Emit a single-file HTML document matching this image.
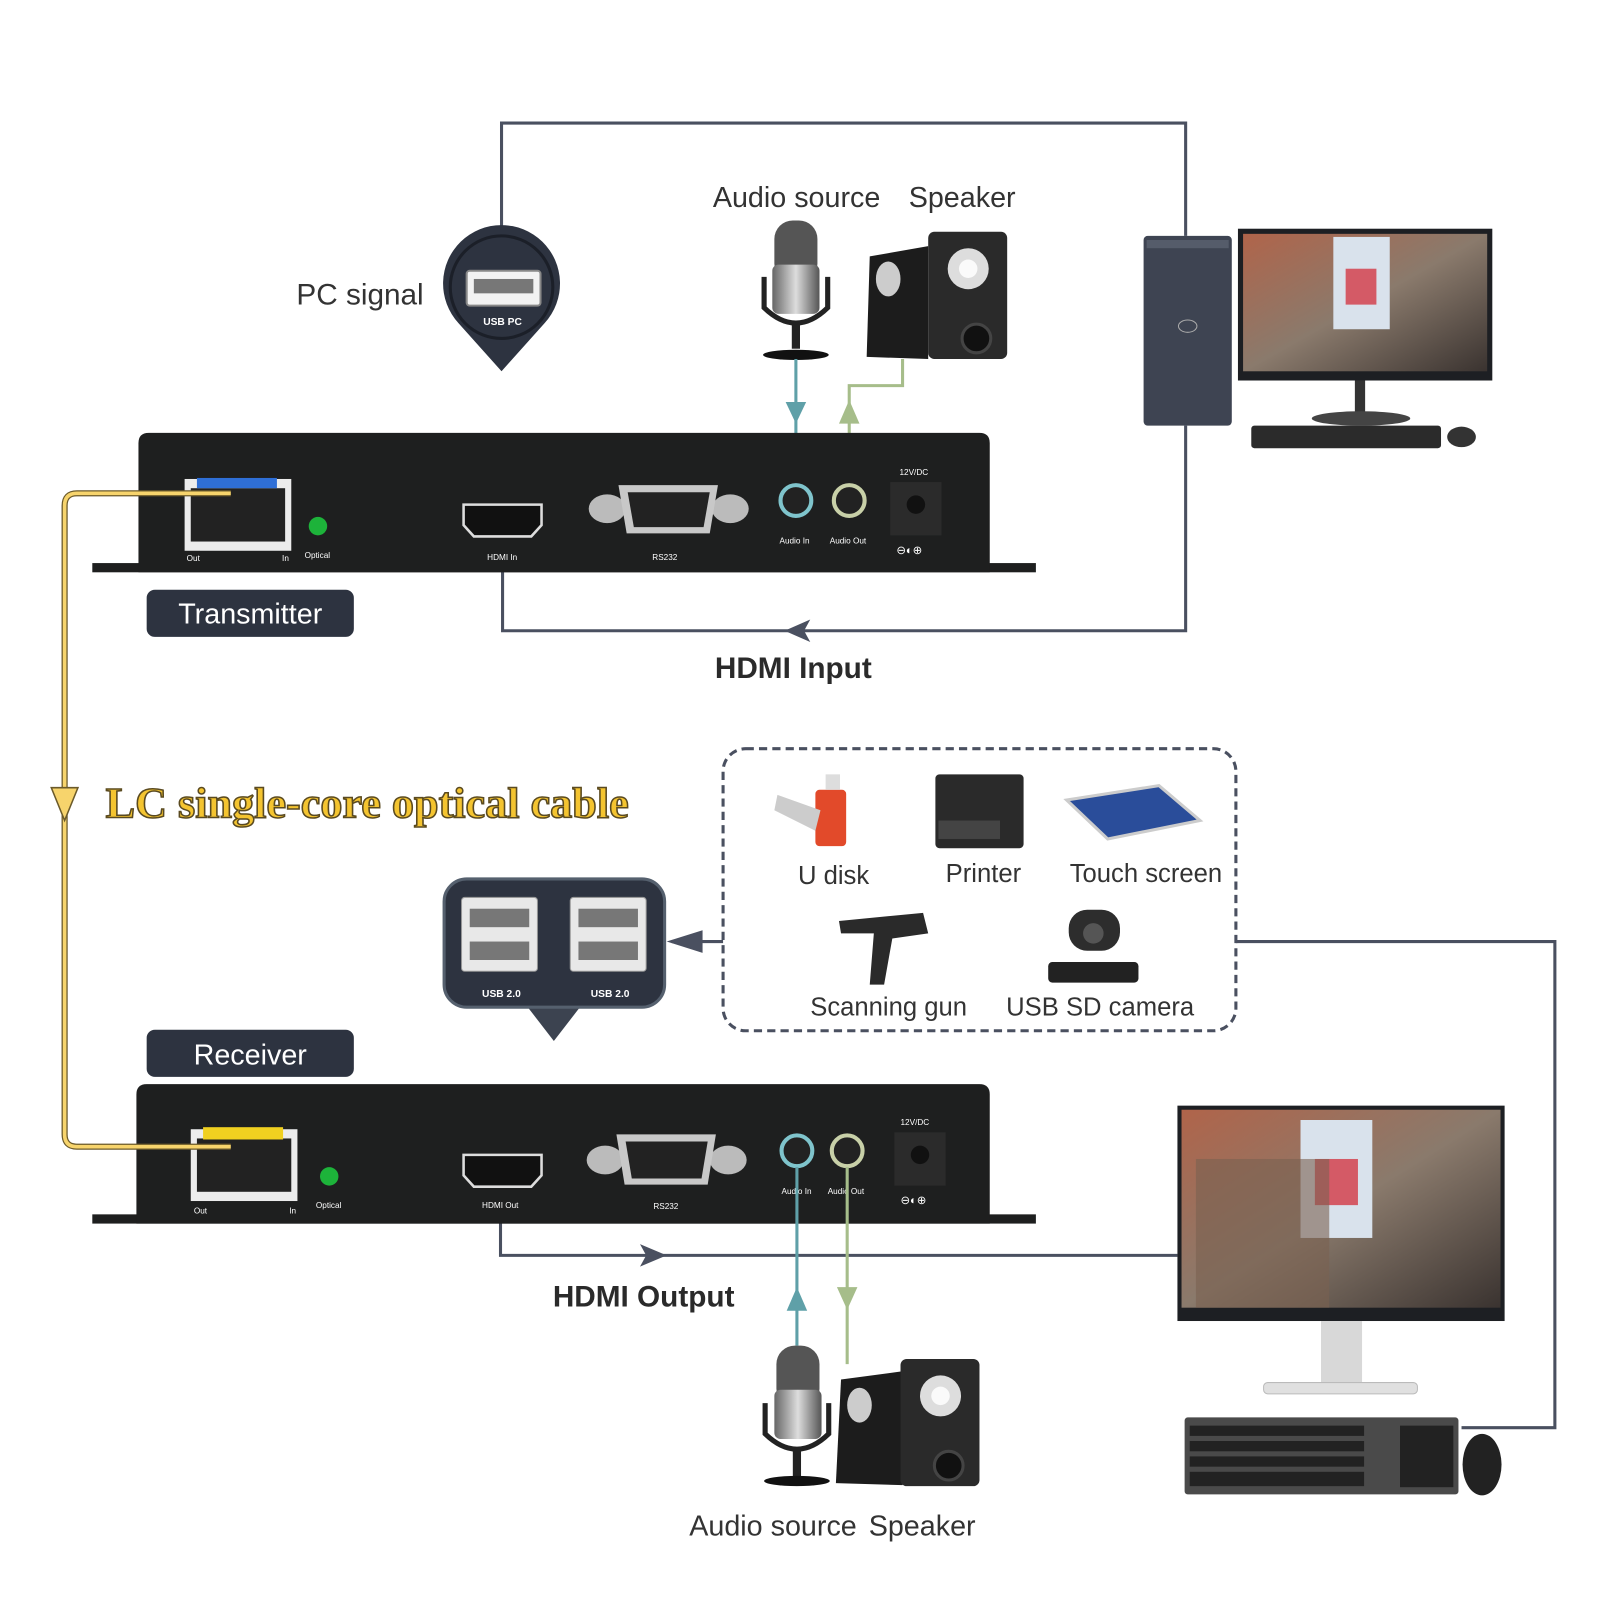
<!DOCTYPE html>
<html><head><meta charset="utf-8"><style>
html,body{margin:0;padding:0;background:#fff;}
body{width:1600px;height:1600px;overflow:hidden;}
#w{width:1560px;height:1560px;transform:scale(1.02564);transform-origin:0 0;position:relative;}
svg text{font-family:"Liberation Sans",sans-serif;}
</style></head><body><div id="w">
<svg width="1560" height="1560" viewBox="0 0 1560 1560" xmlns="http://www.w3.org/2000/svg">
<defs>
<linearGradient id="scr" x1="0" y1="0" x2="1" y2="1"><stop offset="0" stop-color="#b0644a"/><stop offset="0.5" stop-color="#8a7a6c"/><stop offset="1" stop-color="#3a3330"/></linearGradient>
<linearGradient id="mic" x1="0" x2="1"><stop offset="0" stop-color="#666"/><stop offset="0.5" stop-color="#ddd"/><stop offset="1" stop-color="#555"/></linearGradient>
</defs>
<g fill="none" stroke="#4a5060" stroke-width="3">
<path d="M489 222 V120 H1156 V230"/>
<path d="M1156 415 V615 H490 V515"/>
<path d="M488 1160 V1224 H1148"/>
<path d="M1205 918 H1516 V1392 H1425"/>
<path d="M705 918 H655"/>
<rect x="705" y="730" width="500" height="275" rx="22" stroke-dasharray="8 5"/>
</g>
<polygon points="765,615 790,604 784,615 790,626" fill="#4a5060"/>
<polygon points="650,1224 624,1213 630,1224 624,1235" fill="#4a5060"/>
<polygon points="650,918 685,907 685,929" fill="#4a5060"/>
<!-- PC signal balloon -->
<path d="M447 315 A57 57 0 1 1 531 315 L489 362 Z" fill="#2d3340"/>
<circle cx="489" cy="280" r="50" fill="#2d3340" stroke="#1b1f28" stroke-width="3"/>
<rect x="455" y="264" width="72" height="34" rx="3" fill="#f2f2f2" stroke="#888" stroke-width="2"/>
<rect x="462" y="272" width="58" height="14" fill="#777"/>
<text x="490" y="317" font-size="10" fill="#fff" text-anchor="middle" font-weight="bold">USB PC</text>
<text x="289" y="297" font-size="29" fill="#333">PC signal</text>
<text x="695" y="202" font-size="28" fill="#333">Audio source</text>
<text x="886" y="202" font-size="28" fill="#333">Speaker</text>
<!-- top mic -->
<g>
<rect x="755" y="215" width="42" height="60" rx="18" fill="#555"/>
<rect x="753" y="258" width="46" height="48" rx="6" fill="url(#mic)"/>
<path d="M745 270 V300 Q776 330 807 300 V270" fill="none" stroke="#222" stroke-width="5"/>
<rect x="772" y="315" width="8" height="25" fill="#222"/>
<ellipse cx="776" cy="346" rx="32" ry="5" fill="#111"/>
</g>
<!-- top speakers -->
<g>
<path d="M848 250 L905 240 V350 L845 348 Z" fill="#1c1c1c"/>
<rect x="905" y="226" width="77" height="124" rx="6" fill="#2a2a2a"/>
<circle cx="944" cy="262" r="20" fill="#ddd"/><circle cx="944" cy="262" r="9" fill="#fafafa"/>
<circle cx="952" cy="330" r="14" fill="#111" stroke="#444" stroke-width="3"/>
<ellipse cx="866" cy="272" rx="12" ry="17" fill="#ccc"/>
</g>
<!-- audio lines top -->
<path d="M776 350 V475" stroke="#5fa0a8" stroke-width="3"/>
<polygon points="766,392 786,392 776,413" fill="#5fa0a8"/>
<path d="M880 350 V376 H828 V475" fill="none" stroke="#a6bd8a" stroke-width="3"/>
<polygon points="818,413 838,413 828,390" fill="#a6bd8a"/>
<!-- PC tower & monitor -->
<rect x="1115" y="230" width="86" height="185" rx="4" fill="#3e4452"/>
<rect x="1118" y="234" width="80" height="8" fill="#555c6a"/>
<ellipse cx="1158" cy="318" rx="9" ry="6" fill="none" stroke="#aaa"/>
<rect x="1207" y="223" width="248" height="148" fill="#1d1f23"/>
<rect x="1212" y="228" width="238" height="134" fill="url(#scr)"/>
<rect x="1300" y="231" width="55" height="90" fill="#d9e2ec"/>
<rect x="1312" y="262" width="30" height="35" fill="#d45a66"/>
<rect x="1321" y="371" width="10" height="35" fill="#333"/>
<ellipse cx="1327" cy="408" rx="48" ry="7" fill="#444"/>
<rect x="1220" y="415" width="185" height="22" rx="3" fill="#2b2b2b"/>
<ellipse cx="1425" cy="426" rx="14" ry="10" fill="#333"/>
<!-- transmitter -->
<rect x="90" y="549" width="920" height="9" fill="#1e1f1f"/>
<path d="M135 558 V432 Q135 422 145 422 H955 Q965 422 965 432 V558 Z" fill="#1e1f1f"/>
<rect x="180" y="467" width="104" height="70" fill="#ececec"/>
<rect x="186" y="476" width="92" height="52" fill="#222"/>
<rect x="192" y="466" width="78" height="10" fill="#2f6fd6"/>
<circle cx="310" cy="513" r="9" fill="#1db33a"/>
<text x="182" y="547" font-size="8" fill="#fff">Out</text><text x="275" y="547" font-size="8" fill="#fff">In</text>
<text x="297" y="544" font-size="8" fill="#fff">Optical</text>
<path d="M452 492 H528 V512 L518 523 H462 L452 512 Z" fill="#111" stroke="#ddd" stroke-width="2.5"/>
<text x="475" y="546" font-size="8" fill="#fff">HDMI In</text>
<ellipse cx="592" cy="496" rx="18" ry="14" fill="#bbb"/><ellipse cx="712" cy="496" rx="18" ry="14" fill="#bbb"/>
<path d="M603 473 H700 L692 520 H611 Z" fill="#c8c8c8"/>
<path d="M612 480 H692 L686 514 H618 Z" fill="#222"/>
<text x="636" y="546" font-size="8" fill="#fff">RS232</text>
<circle cx="776" cy="488" r="15" fill="#222" stroke="#7fc4cc" stroke-width="4"/>
<circle cx="828" cy="488" r="15" fill="#222" stroke="#c8d0a8" stroke-width="4"/>
<text x="760" y="530" font-size="8" fill="#fff">Audio In</text><text x="809" y="530" font-size="8" fill="#fff">Audio Out</text>
<rect x="868" y="470" width="50" height="52" fill="#2b2b2b"/><circle cx="893" cy="492" r="9" fill="#111"/>
<text x="877" y="463" font-size="8" fill="#fff">12V/DC</text>
<text x="874" y="540" font-size="11" fill="#fff">⊖◐⊕</text>
<rect x="143" y="575" width="202" height="46" rx="8" fill="#2d3340"/>
<text x="244" y="608" font-size="28" fill="#fff" text-anchor="middle">Transmitter</text>
<text x="697" y="661" font-size="29" font-weight="bold" fill="#2a2a2a">HDMI Input</text>
<text x="103" y="797" font-size="42" font-weight="bold" textLength="510" lengthAdjust="spacingAndGlyphs" fill="#f4c430" stroke="#5a4a20" stroke-width="1.5" style="font-family:'Liberation Serif',serif">LC single-core optical cable</text>
<!-- devices -->
<rect x="795" y="770" width="30" height="55" rx="4" fill="#e24a2a" />
<path d="M758 775 L800 790 L795 810 L755 790 Z" fill="#ccc"/>
<rect x="805" y="755" width="14" height="15" fill="#ddd"/>
<rect x="912" y="755" width="86" height="72" rx="4" fill="#2a2a2a"/>
<rect x="915" y="800" width="60" height="18" fill="#444"/>
<path d="M1040 780 L1130 766 L1170 800 L1080 818 Z" fill="#2a4d9a" stroke="#ccc" stroke-width="3"/>
<text x="778" y="862" font-size="25" fill="#333">U disk</text>
<text x="922" y="860" font-size="25" fill="#333">Printer</text>
<text x="1043" y="860" font-size="25" fill="#333">Touch screen</text>
<path d="M818 898 L900 890 L905 910 L870 915 L862 960 L848 960 L852 910 L820 910 Z" fill="#2a2a2a"/>
<rect x="1042" y="887" width="50" height="40" rx="18" fill="#2d2d2d"/>
<circle cx="1066" cy="910" r="10" fill="#555"/>
<rect x="1022" y="938" width="88" height="20" rx="4" fill="#222"/>
<text x="790" y="990" font-size="25" fill="#333">Scanning gun</text>
<text x="981" y="990" font-size="25" fill="#333">USB SD camera</text>
<!-- USB hub balloon -->
<path d="M513 980 L540 1015 L567 980 Z" fill="#3c4350"/>
<rect x="433" y="857" width="215" height="125" rx="22" fill="#2d3340" stroke="#55606e" stroke-width="3"/>
<g fill="#e8e8e8" stroke="#999"><rect x="450" y="875" width="74" height="72" rx="3"/><rect x="556" y="875" width="74" height="72" rx="3"/></g>
<g fill="#777"><rect x="458" y="886" width="58" height="18"/><rect x="458" y="918" width="58" height="18"/><rect x="564" y="886" width="58" height="18"/><rect x="564" y="918" width="58" height="18"/></g>
<text x="470" y="972" font-size="10" fill="#fff" font-weight="bold">USB 2.0</text>
<text x="576" y="972" font-size="10" fill="#fff" font-weight="bold">USB 2.0</text>
<!-- receiver -->
<rect x="143" y="1004" width="202" height="46" rx="8" fill="#2d3340"/>
<text x="244" y="1038" font-size="28" fill="#fff" text-anchor="middle">Receiver</text>
<rect x="90" y="1184" width="920" height="9" fill="#1e1f1f"/>
<path d="M133 1193 V1067 Q133 1057 143 1057 H955 Q965 1057 965 1067 V1193 Z" fill="#1e1f1f"/>
<rect x="186" y="1101" width="104" height="70" fill="#ececec"/>
<rect x="192" y="1110" width="92" height="52" fill="#222"/>
<rect x="198" y="1099" width="78" height="12" fill="#f0d020"/>
<circle cx="321" cy="1147" r="9" fill="#1db33a"/>
<text x="189" y="1183" font-size="8" fill="#fff">Out</text><text x="282" y="1183" font-size="8" fill="#fff">In</text>
<text x="308" y="1178" font-size="8" fill="#fff">Optical</text>
<path d="M452 1126 H528 V1146 L518 1157 H462 L452 1146 Z" fill="#111" stroke="#ddd" stroke-width="2.5"/>
<text x="470" y="1178" font-size="8" fill="#fff">HDMI Out</text>
<ellipse cx="590" cy="1131" rx="18" ry="14" fill="#bbb"/><ellipse cx="710" cy="1131" rx="18" ry="14" fill="#bbb"/>
<path d="M601 1106 H698 L690 1155 H609 Z" fill="#c8c8c8"/>
<path d="M610 1113 H690 L684 1149 H616 Z" fill="#222"/>
<text x="637" y="1179" font-size="8" fill="#fff">RS232</text>
<circle cx="777" cy="1122" r="15" fill="#222" stroke="#7fc4cc" stroke-width="4"/>
<circle cx="826" cy="1122" r="15" fill="#222" stroke="#c8d0a8" stroke-width="4"/>
<text x="762" y="1164" font-size="8" fill="#fff">Audio In</text><text x="807" y="1164" font-size="8" fill="#fff">Audio Out</text>
<rect x="872" y="1104" width="50" height="52" fill="#2b2b2b"/><circle cx="897" cy="1126" r="9" fill="#111"/>
<text x="878" y="1097" font-size="8" fill="#fff">12V/DC</text>
<text x="878" y="1174" font-size="11" fill="#fff">⊖◐⊕</text>
<!-- yellow fiber (on top) -->
<path d="M225 481 H75 Q63 481 63 493 V1106 Q63 1118 75 1118 H225" fill="none" stroke="#6b5a2a" stroke-width="6"/>
<path d="M225 481 H75 Q63 481 63 493 V1106 Q63 1118 75 1118 H225" fill="none" stroke="#f7d46c" stroke-width="3.5"/>
<polygon points="50,768 76,768 63,800" fill="#f7d46c" stroke="#6b5a2a" stroke-width="1.5"/>
<path d="M777 1138 V1312" stroke="#5fa0a8" stroke-width="3"/>
<polygon points="767,1278 787,1278 777,1255" fill="#5fa0a8"/>
<path d="M826 1138 V1330" stroke="#a6bd8a" stroke-width="3"/>
<polygon points="816,1255 836,1255 826,1277" fill="#a6bd8a"/>
<text x="539" y="1274" font-size="29" font-weight="bold" fill="#2a2a2a">HDMI Output</text>
<!-- bottom mic & speakers -->
<rect x="757" y="1312" width="42" height="60" rx="18" fill="#555"/>
<rect x="755" y="1355" width="46" height="48" rx="6" fill="url(#mic)"/>
<path d="M746 1368 V1398 Q777 1428 808 1398 V1368" fill="none" stroke="#222" stroke-width="5"/>
<rect x="773" y="1412" width="8" height="28" fill="#222"/>
<ellipse cx="777" cy="1444" rx="32" ry="5" fill="#111"/>
<path d="M820 1345 L880 1337 V1448 L815 1446 Z" fill="#1c1c1c"/>
<rect x="878" y="1325" width="77" height="124" rx="6" fill="#2a2a2a"/>
<circle cx="917" cy="1361" r="20" fill="#ddd"/><circle cx="917" cy="1361" r="9" fill="#fafafa"/>
<circle cx="925" cy="1429" r="14" fill="#111" stroke="#444" stroke-width="3"/>
<ellipse cx="838" cy="1370" rx="12" ry="17" fill="#ccc"/>
<text x="672" y="1497" font-size="28" fill="#333">Audio source</text>
<text x="847" y="1497" font-size="28" fill="#333">Speaker</text>
<!-- bottom monitor -->
<rect x="1148" y="1078" width="319" height="210" fill="#1d1f23"/>
<rect x="1152" y="1082" width="311" height="193" fill="url(#scr)"/>
<rect x="1268" y="1092" width="70" height="115" fill="#d9e2ec"/>
<rect x="1282" y="1130" width="42" height="45" fill="#d45a66"/>
<rect x="1166" y="1130" width="130" height="145" fill="#7a6050" opacity="0.6"/>
<rect x="1288" y="1288" width="40" height="60" fill="#d8d8d8"/>
<rect x="1232" y="1348" width="150" height="11" rx="4" fill="#e0e0e0" stroke="#bbb"/>
<rect x="1155" y="1382" width="267" height="75" rx="3" fill="#4a4a4a"/>
<g fill="#222">
<rect x="1160" y="1390" width="170" height="10"/><rect x="1160" y="1405" width="170" height="10"/><rect x="1160" y="1420" width="170" height="10"/><rect x="1160" y="1435" width="170" height="14"/>
<rect x="1365" y="1390" width="52" height="60"/>
</g>
<ellipse cx="1445" cy="1428" rx="19" ry="30" fill="#222"/>
</svg>
</div></body></html>
